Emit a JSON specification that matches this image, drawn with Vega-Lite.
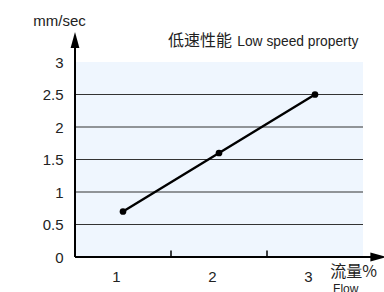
{
  "$schema": "https://vega.github.io/schema/vega-lite/v6.json",
  "width": 288,
  "height": 195,
  "autosize": "none",
  "padding": {"left": 75, "top": 62, "right": 21, "bottom": 35},
  "background": "white",
  "view": {"fill": "#eff6fe", "stroke": null},
  "config": {"font": "Liberation Sans", "text": {"color": "#222222"}},
  "resolve": {"axis": {"x": "independent", "y": "independent"}},
  "datasets": {
    "perf": [{"flow": 1, "speed": 0.7}, {"flow": 2, "speed": 1.6}, {"flow": 3, "speed": 2.5}],
    "grid": [{"g": 0.5}, {"g": 1}, {"g": 1.5}, {"g": 2}, {"g": 2.5}],
    "ticks": [{"t": 1.5}, {"t": 2.5}],
    "axes": [{"x": 0.5, "y": 0, "x2": 3.62, "y2": 0}, {"x": 0.5, "y": 0, "x2": 0.5, "y2": 3.3}],
    "arrows": [{"x": 0.5, "y": 3.34, "dir": "up"}, {"x": 3.66, "y": 0, "dir": "right"}]
  },
  "layer": [
    {
      "data": {"name": "grid"},
      "mark": {"type": "rule", "color": "#333333", "strokeWidth": 1.2},
      "encoding": {
        "y": {"field": "g", "type": "quantitative", "scale": {"domain": [0, 3], "nice": false, "zero": false}, "axis": null},
        "x": {"datum": 0.5, "type": "quantitative", "scale": {"domain": [0.5, 3.5], "nice": false, "zero": false}, "axis": null},
        "x2": {"datum": 3.5}
      }
    },
    {
      "data": {"name": "perf"},
      "mark": {"type": "line", "color": "#000000", "strokeWidth": 2.4},
      "encoding": {
        "x": {
          "field": "flow", "type": "quantitative",
          "scale": {"domain": [0.5, 3.5], "nice": false, "zero": false},
          "axis": {
            "values": [1, 2, 3], "format": "~g", "ticks": false, "tickSize": 0, "domain": false, "grid": false,
            "labelOffset": -7, "labelPadding": 12, "labelFontSize": 15, "labelColor": "#222222",
            "labelFont": "Liberation Sans",
            "title": "流量%", "titleX": 278, "titleY": 14, "titleAlign": "center", "titleBaseline": "middle",
            "titleFontSize": 16, "titleFontWeight": "normal", "titleFont": "Noto Sans CJK SC", "titleColor": "#222222"
          }
        },
        "y": {
          "field": "speed", "type": "quantitative",
          "scale": {"domain": [0, 3], "nice": false, "zero": false},
          "axis": {
            "values": [0, 0.5, 1, 1.5, 2, 2.5, 3], "format": "~g", "ticks": false, "tickSize": 0, "domain": false, "grid": false,
            "labelPadding": 12, "labelFontSize": 15, "labelColor": "#222222", "labelFont": "Liberation Sans",
            "title": "mm/sec", "titleAngle": 0, "titleX": -16, "titleY": -42, "titleAlign": "center", "titleBaseline": "middle",
            "titleFontSize": 15, "titleFontWeight": "normal", "titleColor": "#222222", "titleFont": "Liberation Sans"
          }
        }
      }
    },
    {
      "data": {"name": "perf"},
      "mark": {"type": "point", "filled": true, "color": "#000000", "size": 45, "opacity": 1},
      "encoding": {
        "x": {"field": "flow", "type": "quantitative", "axis": null},
        "y": {"field": "speed", "type": "quantitative", "axis": null}
      }
    },
    {
      "data": {"name": "ticks"},
      "mark": {"type": "rule", "color": "#000000", "strokeWidth": 1.5},
      "encoding": {
        "x": {"field": "t", "type": "quantitative", "axis": null},
        "y": {"datum": 0, "type": "quantitative", "axis": null},
        "y2": {"datum": 0.1}
      }
    },
    {
      "data": {"name": "axes"},
      "mark": {"type": "rule", "color": "#000000", "strokeWidth": 2},
      "encoding": {
        "x": {"field": "x", "type": "quantitative", "axis": null},
        "x2": {"field": "x2"},
        "y": {"field": "y", "type": "quantitative", "axis": null},
        "y2": {"field": "y2"}
      }
    },
    {
      "data": {"name": "arrows"},
      "mark": {"type": "point", "filled": true, "color": "#000000", "opacity": 1, "size": 256},
      "encoding": {
        "x": {"field": "x", "type": "quantitative", "axis": null},
        "y": {"field": "y", "type": "quantitative", "axis": null},
        "shape": {
          "field": "dir", "type": "nominal", "legend": null,
          "scale": {"domain": ["up", "right"], "range": ["M0,-1L0.55,1L-0.55,1Z", "M1,0L-1,0.55L-1,-0.55Z"]}
        }
      }
    },
    {
      "data": {"values": [{"x": 2.135, "y": 3.33, "label": "低速性能"}]},
      "mark": {"type": "text", "align": "right", "baseline": "middle", "fontSize": 16, "font": "Noto Sans CJK SC"},
      "encoding": {
        "x": {"field": "x", "type": "quantitative", "axis": null},
        "y": {"field": "y", "type": "quantitative", "axis": null},
        "text": {"field": "label"}
      }
    },
    {
      "data": {"values": [{"x": 2.19, "y": 3.31, "label": "Low speed property"}]},
      "mark": {"type": "text", "align": "left", "baseline": "middle", "fontSize": 13.8, "font": "Liberation Sans"},
      "encoding": {
        "x": {"field": "x", "type": "quantitative", "axis": null},
        "y": {"field": "y", "type": "quantitative", "axis": null},
        "text": {"field": "label"}
      }
    },
    {
      "data": {"values": [{"x": 3.32, "y": -0.415, "label": "Flow"}]},
      "mark": {"type": "text", "align": "center", "baseline": "top", "fontSize": 12, "font": "Liberation Sans"},
      "encoding": {
        "x": {"field": "x", "type": "quantitative", "axis": null},
        "y": {"field": "y", "type": "quantitative", "axis": null},
        "text": {"field": "label"}
      }
    }
  ]
}
